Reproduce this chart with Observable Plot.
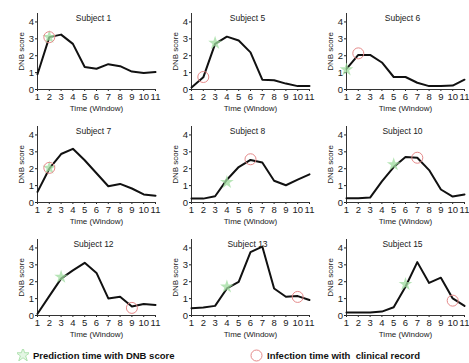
<!DOCTYPE html>
<html><head><meta charset="utf-8">
<script src="https://cdn.jsdelivr.net/npm/d3@7"></script>
<script src="https://cdn.jsdelivr.net/npm/@observablehq/plot@0.6"></script>
<style>
body{margin:0;background:#fff;font-family:"Liberation Sans",Arial,sans-serif;}
#wrap{position:relative;width:469px;height:363px;overflow:hidden;}
.panel{position:absolute;}
.panel svg{overflow:visible;}
.leg{position:absolute;top:346px;height:18px;display:flex;align-items:center;font-weight:bold;font-size:9.5px;color:#111;white-space:pre;}
.leg svg{margin-right:4px;}
</style></head><body><div id="wrap"></div>
<script>
const subjects = ["Subject 1","Subject 5","Subject 6","Subject 7","Subject 8","Subject 10","Subject 12","Subject 13","Subject 15"];
const windows = [1,2,3,4,5,6,7,8,9,10,11];
const xTicks = [1,2,3,4,5,6,7,8,9,10,11];
const yTicks = [0,1,2,3,4];
const s1  = [0.9, 3.1, 3.25, 2.7, 1.33, 1.23, 1.5, 1.38, 1.06, 0.98, 1.03];
const s5  = [0.12, 0.72, 2.7, 3.13, 2.9, 2.2, 0.58, 0.55, 0.35, 0.2, 0.2];
const s6  = [1.22, 2.05, 2.05, 1.6, 0.74, 0.74, 0.4, 0.2, 0.2, 0.23, 0.58];
const s7  = [0.63, 2.0, 2.87, 3.18, 2.5, 1.73, 0.96, 1.1, 0.83, 0.48, 0.4];
const s8  = [0.23, 0.23, 0.37, 1.35, 2.1, 2.52, 2.37, 1.29, 1.02, 1.35, 1.67];
const s10 = [0.25, 0.25, 0.29, 1.25, 2.1, 2.7, 2.65, 1.92, 0.77, 0.35, 0.48];
const s12 = [0.1, 1.15, 2.18, 2.67, 3.12, 2.52, 1.01, 1.11, 0.53, 0.68, 0.62];
const s13 = [0.43, 0.47, 0.57, 1.6, 1.99, 3.75, 4.08, 1.6, 1.11, 1.15, 0.92];
const s15 = [0.18, 0.18, 0.18, 0.23, 0.49, 1.7, 3.16, 1.93, 2.24, 1.01, 0.57];
const series = [s1, s5, s6, s7, s8, s10, s12, s13, s15];
const starX = [2, 3, 1, 2, 4, 5, 3, 4, 6];
const starY = [3.1, 2.75, 1.18, 2.05, 1.2, 2.25, 2.28, 1.7, 1.85];
const circleX = [2, 2, 2, 2, 6, 7, 9, 10, 10];
const circleY = [3.1, 0.74, 2.14, 2.05, 2.56, 2.65, 0.45, 1.1, 0.88];
const legendLabels = ["Prediction time with DNB score", "Infection time with  clinical record"];

const starColor = "#9fdc9f";
const circleColor = "#e58a8a";
const wrap = document.getElementById("wrap");
const colLeft = [0, 154, 309];
const rowTop = [0, 113, 226];

subjects.forEach((name, i) => {
  const data = windows.map((w, j) => ({x: w, y: series[i][j]}));
  const chart = Plot.plot({
    width: 155, height: 113,
    marginLeft: 37, marginRight: 0, marginTop: 13, marginBottom: 24,
    style: {fontFamily: "Liberation Sans, Arial, sans-serif", fontSize: "9px", color: "#222", background: "transparent", overflow: "visible"},
    x: {domain: [1, 11]},
    y: {domain: [0, 4.5]},
    marks: [
      Plot.axisX({ticks: xTicks, tickSize: 2, tickPadding: 1.5, tickFormat: d => d, label: null, fontSize: 9.5}),
      Plot.axisY({ticks: yTicks, tickSize: 2, tickPadding: 1.5, tickFormat: d => d, label: null, fontSize: 9.5}),
      Plot.frame({anchor: "bottom", stroke: "#333"}),
      Plot.frame({anchor: "left", stroke: "#333"}),
      Plot.line(data, {x: "x", y: "y", stroke: "#111", strokeWidth: 2}),
      Plot.dot([{x: starX[i], y: starY[i]}], {x: "x", y: "y", symbol: "star", r: 4.3, fill: starColor, fillOpacity: 0.75, stroke: "none"}),
      Plot.dot([{x: circleX[i], y: circleY[i]}], {x: "x", y: "y", symbol: "circle", r: 5.5, fill: "none", stroke: circleColor, strokeWidth: 1}),
      Plot.text([name], {frameAnchor: "top", lineAnchor: "middle", dy: 5, dx: -3, fontSize: 8.5, fill: "#222"}),
      Plot.text(["Time (Window)"], {frameAnchor: "bottom", lineAnchor: "middle", dy: 19, fontSize: 8, fill: "#222"}),
      Plot.text(["DNB score"], {frameAnchor: "left", lineAnchor: "middle", textAnchor: "middle", rotate: -90, dx: -16, fontSize: 8, fill: "#222"})
    ]
  });
  const div = document.createElement("div");
  div.className = "panel";
  div.style.left = colLeft[i % 3] + "px";
  div.style.top = rowTop[Math.floor(i / 3)] + "px";
  div.appendChild(chart);
  wrap.appendChild(div);
});

const starPath = d3.symbol(d3.symbolStar, 60)();
const leg1 = document.createElement("div");
leg1.className = "leg"; leg1.style.left = "17px";
leg1.innerHTML = `<svg width="12" height="12" viewBox="-6 -6 12 12"><path d="${starPath}" fill="#e4f6e4" stroke="${starColor}" stroke-width="0.8"/></svg><span>${legendLabels[0]}</span>`;
const leg2 = document.createElement("div");
leg2.className = "leg"; leg2.style.left = "250px";
leg2.innerHTML = `<svg width="13" height="13" viewBox="-6.5 -6.5 13 13"><circle r="5.5" fill="none" stroke="${circleColor}" stroke-width="1"/></svg><span>${legendLabels[1]}</span>`;
wrap.appendChild(leg1); wrap.appendChild(leg2);
</script></body></html>
